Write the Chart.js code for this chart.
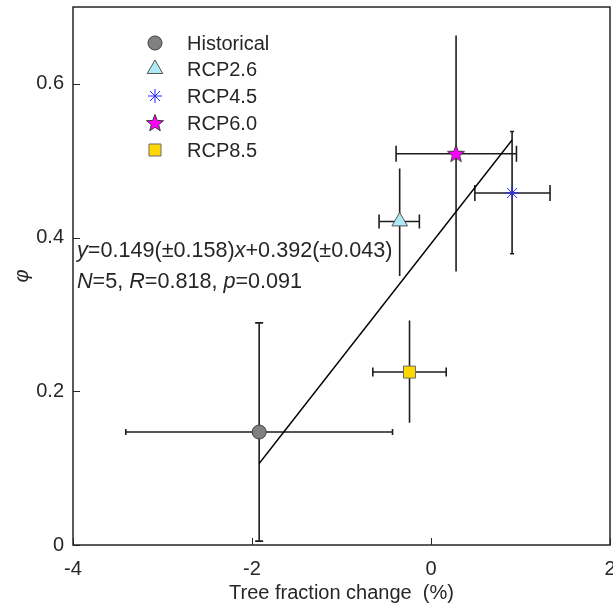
<!DOCTYPE html>
<html>
<head>
<meta charset="utf-8">
<script src="https://cdn.jsdelivr.net/npm/chart.js@4.4.1/dist/chart.umd.min.js"></script>
<style>
  html, body { margin: 0; padding: 0; background: #fff; overflow: hidden; }
  #wrap { width: 613px; height: 611px; }
</style>
</head>
<body>
<div id="wrap"><canvas id="chart"></canvas></div>
<script>
// values
const labels = ['Historical', 'RCP2.6', 'RCP4.5', 'RCP6.0', 'RCP8.5'];
const xVals = [-1.92, -0.35, 0.906, 0.28, -0.24];
const yVals = [0.147, 0.421, 0.458, 0.509, 0.225];
const xLow = [-3.41, -0.58, 0.49, -0.39, -0.65];
const xHigh = [-0.43, -0.13, 1.33, 0.955, 0.17];
const yLow = [0.005, 0.35, 0.379, 0.356, 0.159];
const yHigh = [0.289, 0.49, 0.538, 0.663, 0.292];
const fitX = [-1.92, 0.906];
const fitY = [0.106, 0.527];
const xTicks = [-4, -2, 0, 2];
const yTicks = [0, 0.2, 0.4, 0.6];

const FONT = '"Liberation Sans", Arial, sans-serif';
const INK = '#262626';

// filled five point star for RCP6.0
function makeStar() {
    const c = document.createElement('canvas');
    c.width = 20; c.height = 20;
    const g = c.getContext('2d');
    g.beginPath();
    for (let i = 0; i < 10; i++) {
        const r = i % 2 === 0 ? 9 : 3.8;
        const a = -Math.PI / 2 + i * Math.PI / 5;
        const px = 10 + r * Math.cos(a), py = 10.5 + r * Math.sin(a);
        if (i === 0) g.moveTo(px, py); else g.lineTo(px, py);
    }
    g.closePath();
    g.fillStyle = '#ff00ff';
    g.fill();
    g.lineWidth = 1;
    g.strokeStyle = '#3a3a3a';
    g.stroke();
    return c;
}

const styles = [
    { pointStyle: 'circle', radius: 7, bg: '#808080', border: '#3c3c3c', bw: 1 },
    { pointStyle: 'triangle', radius: 9, bg: '#aee9f7', border: '#555555', bw: 1 },
    { pointStyle: 'star', radius: 7, bg: '#2a2aff', border: '#2a2aff', bw: 1 },
    { pointStyle: makeStar(), radius: 9, bg: '#ff00ff', border: '#3a3a3a', bw: 1 },
    { pointStyle: 'rect', radius: 8.5, bg: '#ffd700', border: '#6b6b6b', bw: 1 }
];
const xCap = [6, 14, 16, 16, 9];
const yCap = [8, 0, 4, 0, 0];

const datasets = labels.map((name, i) => ({
    label: name,
    data: [{ x: xVals[i], y: yVals[i] }],
    pointStyle: styles[i].pointStyle,
    pointRadius: styles[i].radius,
    pointHoverRadius: styles[i].radius,
    backgroundColor: styles[i].bg,
    borderColor: styles[i].border,
    borderWidth: styles[i].bw,
    showLine: false,
    order: 0
}));

datasets.push({
    label: 'fit',
    type: 'line',
    data: fitX.map((x, i) => ({ x: x, y: fitY[i] })),
    borderColor: '#000',
    borderWidth: 1.4,
    pointRadius: 0,
    fill: false,
    order: 5
});

const errorBars = {
    id: 'errorBars',
    beforeDatasetsDraw(chart) {
        const { ctx, scales: { x, y } } = chart;
        ctx.save();
        ctx.strokeStyle = '#1e1e1e';
        ctx.lineWidth = 1.6;
        for (let i = 0; i < labels.length; i++) {
            const cx = x.getPixelForValue(xVals[i]);
            const cy = y.getPixelForValue(yVals[i]);
            const x1 = x.getPixelForValue(xLow[i]);
            const x2 = x.getPixelForValue(xHigh[i]);
            const y1 = y.getPixelForValue(yLow[i]);
            const y2 = y.getPixelForValue(yHigh[i]);
            ctx.beginPath();
            ctx.moveTo(x1, cy); ctx.lineTo(x2, cy);
            ctx.moveTo(x1, cy - xCap[i] / 2); ctx.lineTo(x1, cy + xCap[i] / 2);
            ctx.moveTo(x2, cy - xCap[i] / 2); ctx.lineTo(x2, cy + xCap[i] / 2);
            ctx.moveTo(cx, y1); ctx.lineTo(cx, y2);
            if (yCap[i] > 0) {
                ctx.moveTo(cx - yCap[i] / 2, y1); ctx.lineTo(cx + yCap[i] / 2, y1);
                ctx.moveTo(cx - yCap[i] / 2, y2); ctx.lineTo(cx + yCap[i] / 2, y2);
            }
            ctx.stroke();
        }
        ctx.restore();
    }
};

// box, inward ticks, legend and the regression text
const decorations = {
    id: 'decorations',
    afterDraw(chart) {
        const { ctx, chartArea: a, scales: { x, y } } = chart;
        ctx.save();
        ctx.strokeStyle = INK;
        ctx.lineWidth = 1.5;
        ctx.strokeRect(a.left, a.top, a.right - a.left, a.bottom - a.top);
        ctx.beginPath();
        xTicks.forEach(v => {
            const px = Math.round(x.getPixelForValue(v)) + 0.5;
            ctx.moveTo(px, a.bottom); ctx.lineTo(px, a.bottom - 7);
        });
        yTicks.forEach(v => {
            const py = Math.round(y.getPixelForValue(v)) + 0.5;
            ctx.moveTo(a.left, py); ctx.lineTo(a.left + 7, py);
        });
        ctx.lineWidth = 1;
        ctx.stroke();

        // legend
        const rowY = [43, 69, 96, 123, 150];
        ctx.font = '20px ' + FONT;
        ctx.textBaseline = 'middle';
        ctx.textAlign = 'left';
        labels.forEach((name, i) => {
            ctx.fillStyle = styles[i].bg;
            ctx.strokeStyle = styles[i].border;
            ctx.lineWidth = styles[i].bw;
            Chart.helpers.drawPoint(ctx, {
                pointStyle: styles[i].pointStyle,
                radius: styles[i].radius,
                borderWidth: styles[i].bw,
                rotation: 0
            }, 155, rowY[i]);
            ctx.fillStyle = INK;
            ctx.fillText(name, 187, rowY[i] + 1);
        });

        // regression text
        const lines = [
            [['y', true], ['=0.149(\u00b10.158)', false], ['x', true], ['+0.392(\u00b10.043)', false]],
            [['N', true], ['=5, ', false], ['R', true], ['=0.818, ', false], ['p', true], ['=0.091', false]]
        ];
        const base = [257, 288];
        ctx.textBaseline = 'alphabetic';
        ctx.fillStyle = INK;
        lines.forEach((parts, li) => {
            let cx = 77;
            parts.forEach(([t, it]) => {
                ctx.font = (it ? 'italic ' : '') + '21.6px ' + FONT;
                ctx.fillText(t, cx, base[li]);
                cx += ctx.measureText(t).width;
            });
        });
        ctx.restore();
    }
};

new Chart(document.getElementById('chart'), {
    type: 'scatter',
    data: { datasets: datasets },
    options: {
        responsive: true,
        maintainAspectRatio: false,
        animation: false,
        layout: { autoPadding: false, padding: { top: 7, right: 3, left: 0, bottom: 0 } },
        plugins: {
            legend: { display: false },
            tooltip: { enabled: false }
        },
        scales: {
            x: {
                type: 'linear',
                min: -4,
                max: 2,
                afterBuildTicks: (s) => { s.ticks = xTicks.map(v => ({ value: v })); },
                afterFit: (s) => { s.height = 66; s.paddingLeft = 0; s.paddingRight = 0; },
                grid: { display: false, drawTicks: true, tickLength: 18 },
                border: { display: false },
                ticks: { color: INK, font: { family: FONT, size: 20 }, padding: -6, maxRotation: 0 },
                title: {
                    display: true,
                    text: 'Tree fraction change  (%)',
                    color: INK,
                    font: { family: FONT, size: 20 },
                    padding: { top: 0, bottom: 6 }
                }
            },
            y: {
                type: 'linear',
                min: 0,
                max: 0.7,
                afterBuildTicks: (s) => { s.ticks = yTicks.map(v => ({ value: v })); },
                afterFit: (s) => { s.width = 73; s.paddingTop = 0; s.paddingBottom = 0; },
                grid: { display: false, drawTicks: false },
                border: { display: false },
                ticks: { color: INK, font: { family: FONT, size: 20 }, padding: 9 },
                title: {
                    display: true,
                    text: '\u03c6',
                    color: INK,
                    font: { family: FONT, size: 20, style: 'italic' },
                    padding: { top: 10, bottom: 0 }
                }
            }
        }
    },
    plugins: [errorBars, decorations]
});
</script>
</body>
</html>
